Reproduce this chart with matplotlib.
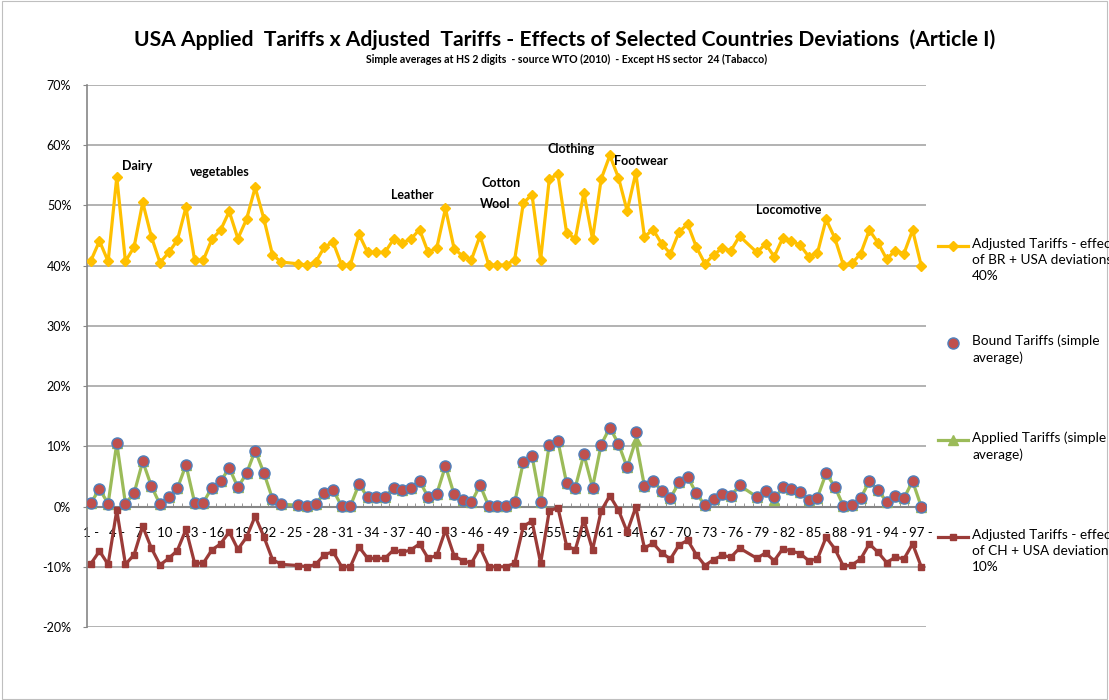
import numpy as np
import matplotlib
matplotlib.use("Agg")
import matplotlib.pyplot as plt
from matplotlib.lines import Line2D

plt.rcParams['font.family'] = ['Lato', 'DejaVu Sans']
plt.rcParams['axes.unicode_minus'] = False

# HS chapters 1..97 (24 and 77 have no value)
hs = np.arange(1, 98)

# simple averages, in %
bound = [0.6, 2.9, 0.5, 10.5, 0.5, 2.2, 7.5, 3.4, 0.35, 1.6,
         3.0, 6.9, 0.65, 0.65, 3.15, 4.2, 6.4, 3.2, 5.5, 9.3,
         5.6, 1.3, 0.4, np.nan, 0.2, 0.05, 0.45, 2.2, 2.75, 0.05,
         0.05, 3.7, 1.55, 1.55, 1.55, 3.15, 2.7, 3.15, 4.25, 1.55,
         2.15, 6.75, 2.0, 1.15, 0.7, 3.55, 0.05, 0.05, 0.05, 0.7,
         7.4, 8.45, 0.7, 10.3, 10.85, 3.9, 3.15, 8.65, 3.15, 10.3,
         13.1, 10.4, 6.5, 12.3, 3.4, 4.3, 2.6, 1.4, 4.0, 4.9,
         2.2, 0.2, 1.3, 2.1, 1.8, 3.5, np.nan, 1.6, 2.6, 1.6,
         3.3, 2.9, 2.4, 1.1, 1.5, 5.5, 3.3, 0.1, 0.3, 1.4,
         4.2, 2.7, 0.8, 1.8, 1.4, 4.2, 0.0]

applied = [0.6, 2.9, 0.5, 10.5, 0.5, 2.2, 7.5, 3.4, 0.35, 1.6,
           3.0, 6.9, 0.65, 0.65, 3.15, 4.2, 6.4, 3.2, 5.5, 9.3,
           5.6, 1.3, 0.4, np.nan, 0.2, 0.05, 0.45, 2.2, 2.75, 0.05,
           0.05, 3.7, 1.55, 1.55, 1.55, 3.15, 2.7, 3.15, 4.25, 1.55,
           2.15, 6.75, 2.0, 1.15, 0.7, 3.55, 0.05, 0.05, 0.05, 0.7,
           7.4, 8.45, 0.7, 10.3, 10.85, 3.9, 3.15, 8.65, 3.15, 10.3,
           13.1, 10.4, 6.5, 11.0, 3.4, 4.3, 2.6, 1.4, 4.0, 4.9,
           2.2, 0.2, 1.3, 2.1, 1.8, 3.5, np.nan, 1.6, 2.6, 1.1,
           3.3, 2.9, 2.4, 1.1, 1.5, 5.5, 3.3, 0.1, 0.3, 1.4,
           4.2, 2.7, 0.8, 1.8, 1.4, 4.2, 0.0]

# BR + USA deviations, shown shifted by +40%
adj_br = [40.8, 44.1, 40.7, 54.7, 40.7, 43.1, 50.5, 44.8, 40.5, 42.2,
          44.2, 49.7, 40.9, 40.9, 44.4, 45.9, 49.0, 44.5, 47.7, 53.0,
          47.8, 41.8, 40.6, np.nan, 40.3, 40.1, 40.6, 43.1, 43.9, 40.1,
          40.1, 45.2, 42.2, 42.2, 42.2, 44.4, 43.8, 44.4, 46.0, 42.2,
          43.0, 49.5, 42.8, 41.6, 41.0, 45.0, 40.1, 40.1, 40.1, 41.0,
          50.4, 51.8, 41.0, 54.4, 55.2, 45.5, 44.4, 52.1, 44.4, 54.4,
          58.3, 54.6, 49.1, 55.4, 44.8, 46.0, 43.6, 42.0, 45.6, 46.9,
          43.1, 40.3, 41.8, 42.9, 42.5, 44.9, np.nan, 42.2, 43.6, 41.5,
          44.6, 44.1, 43.4, 41.5, 42.1, 47.7, 44.6, 40.1, 40.4, 42.0,
          45.9, 43.8, 41.1, 42.5, 42.0, 45.9, 40.0]

# CH + USA deviations, shown shifted by -10%
adj_ch = [-9.5, -7.4, -9.6, -0.6, -9.6, -8.0, -3.3, -6.9, -9.7, -8.6,
          -7.3, -3.8, -9.4, -9.4, -7.2, -6.2, -4.2, -7.1, -5.1, -1.6,
          -5.0, -8.8, -9.6, np.nan, -9.8, -10.0, -9.6, -8.0, -7.5, -10.0,
          -10.0, -6.7, -8.6, -8.6, -8.6, -7.2, -7.6, -7.2, -6.2, -8.6,
          -8.1, -3.9, -8.2, -9.0, -9.4, -6.8, -10.0, -10.0, -10.0, -9.4,
          -3.3, -2.4, -9.4, -0.7, -0.2, -6.5, -7.2, -2.2, -7.2, -0.7,
          1.8, -0.6, -4.2, -0.1, -6.9, -6.1, -7.7, -8.7, -6.4, -5.6,
          -8.0, -9.8, -8.8, -8.1, -8.4, -6.9, np.nan, -8.6, -7.7, -9.0,
          -7.0, -7.4, -7.8, -9.0, -8.7, -5.1, -7.0, -9.9, -9.7, -8.7,
          -6.2, -7.6, -9.3, -8.4, -8.7, -6.2, -10.0]

labels = {4.6: (56.5, "Dairy"), 12.45: (55.5, "vegetables"),
          35.7: (51.8, "Leather"), 46.2: (53.8, "Cotton"),
          45.95: (50.2, "Wool"), 53.8: (59.3, "Clothing"),
          61.5: (57.3, "Footwear"), 77.9: (49.3, "Locomotive")}

YELLOW = "#FFC000"
GREEN = "#9BBB59"
RED = "#C0504D"
BLUE = "#4F81BD"
DARKRED = "#9B3B38"
GRID = "#A6A6A6"
AXIS = "#868686"


def series(vals):
    v = np.array(vals, dtype=float)
    ok = ~np.isnan(v)
    return hs[ok], v[ok]


fig = plt.figure(figsize=(11.09, 7), dpi=100)
ax = fig.add_axes([0.078, 0.1043, 0.7566, 0.7743])

# x axis crosses at 0%
for s in ["top", "right"]:
    ax.spines[s].set_visible(False)
ax.spines["bottom"].set_position(("data", 0))
ax.spines["bottom"].set_color(AXIS)
ax.spines["bottom"].set_linewidth(1.5)
ax.spines["left"].set_color(AXIS)
ax.spines["left"].set_linewidth(1.2)

x, y = series(adj_br)
ax.plot(x, y, color=YELLOW, lw=2.3, marker="D", ms=5.5, zorder=3)
x, y = series(applied)
ax.plot(x, y, color=GREEN, lw=2.3, marker="^", ms=6.5, zorder=3)
x, y = series(bound)
ax.plot(x, y, ls="none", marker="o", ms=8, mfc=RED, mec=BLUE, mew=1.0, zorder=4)
x, y = series(adj_ch)
ax.plot(x, y, color=DARKRED, lw=2.3, marker="s", ms=5, zorder=3)

for xx, (yy, txt) in labels.items():
    ax.text(xx, yy, txt, fontsize=9, fontweight="bold", ha="left", va="center")

ax.set_xlim(0.5, 97.5)
ax.set_ylim(-20, 70)
ax.set_yticks(np.arange(-20, 71, 10))
ax.set_yticklabels([f"{v}%" for v in range(-20, 71, 10)], fontsize=9)
ax.yaxis.grid(True, color=GRID, lw=1.2)
ax.set_axisbelow(True)

ax.set_xticks(hs[::3])
ax.set_xticklabels([f"{h} -" for h in hs[::3]], fontsize=9.5)
ax.set_xticks(np.arange(1.5, 97.5, 1), minor=True)
ax.tick_params(axis="x", which="major", length=0, pad=15)
ax.tick_params(axis="x", which="minor", direction="in", length=3, color=AXIS)
ax.tick_params(axis="y", length=3, color=AXIS, pad=8)

fig.text(0.509, 0.943, "USA Applied  Tariffs x Adjusted  Tariffs - Effects of Selected Countries Deviations  (Article I)",
         ha="center", va="center", fontsize=15.2, fontweight="bold")
fig.text(0.511, 0.915, "Simple averages at HS 2 digits  - source WTO (2010)  - Except HS sector  24 (Tabacco)",
         ha="center", va="center", fontsize=7.6, fontweight="bold")

# legend on the right, symbol next to the first line of each entry
legend = [
    (dict(color=YELLOW, lw=2.3, marker="D", ms=5.5),
     "Adjusted Tariffs - effect\nof BR + USA deviations -\n40%"),
    (dict(ls="none", marker="o", ms=8, mfc=RED, mec=BLUE, mew=1.0),
     "Bound Tariffs (simple\naverage)"),
    (dict(color=GREEN, lw=2.3, marker="^", ms=6.5),
     "Applied Tariffs (simple\naverage)"),
    (dict(color=DARKRED, lw=2.3, marker="s", ms=5),
     "Adjusted Tariffs - effect\nof CH + USA deviations -\n10%"),
]
for i, (style, txt) in enumerate(legend):
    yy = 1 - (246 + 97 * i) / 700
    if style.get("ls") == "none":
        fig.add_artist(Line2D([0.859], [yy], transform=fig.transFigure, **style))
    else:
        fig.add_artist(Line2D([0.8458, 0.873], [yy, yy], transform=fig.transFigure,
                              color=style["color"], lw=style["lw"]))
        fig.add_artist(Line2D([0.859], [yy], transform=fig.transFigure, ls="none",
                              marker=style["marker"], ms=style["ms"], color=style["color"]))
    fig.text(0.8765, yy + 0.012, txt, ha="left", va="top", fontsize=9.8, linespacing=1.4)

fig.add_artist(plt.Rectangle((0.002, 0.002), 0.996, 0.996, transform=fig.transFigure,
                             fill=False, ec="#BFBFBF", lw=0.8))

fig.savefig("out.png", dpi=100)
